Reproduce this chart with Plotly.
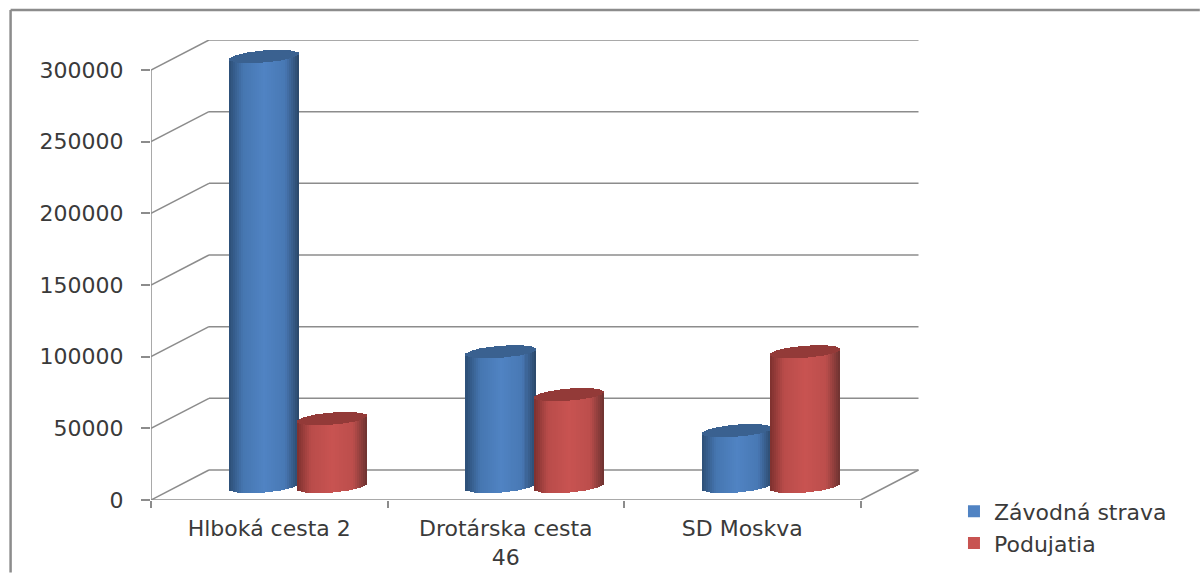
import math
import plotly.graph_objects as go

categories = ["Hlboká cesta 2", "Drotárska cesta<br>46", "SD Moskva"]
zavodna_strava = [300000, 94000, 39000]
podujatia = [47400, 64100, 94000]
y_ticks = [0, 50000, 100000, 150000, 200000, 250000, 300000]

W, H = 1200, 573
X0, X1, XB = 150.5, 860.5, 919.0   # front axis start/end, back wall end (px)
Y0, YTOP, YB = 500.5, 70.0, 40.0   # value 0, value 300000, back wall top (px)
CAT_PX = (X1 - X0) / 3
PX_X = 1 / CAT_PX
PX_Y = 300000 / (Y0 - YTOP)
DX, DY = 58 * PX_X, 30 * PX_Y
GREY = "#8c8c8c"
FONT = dict(family="DejaVu Sans", size=22, color="#3a3a3a")

def mix(stops, u):
    for (a, ca), (b, cb) in zip(stops, stops[1:]):
        if u <= b:
            f = (u - a) / (b - a)
            return "rgb(%d,%d,%d)" % tuple(round(p + (q - p) * f) for p, q in zip(ca, cb))
    return "rgb(%d,%d,%d)" % stops[-1][1]

BLUE = [(-1, (44, 78, 118)), (-.6, (70, 118, 176)), (0, (80, 131, 195)), (.6, (72, 120, 180)), (1, (42, 70, 104))]
RED = [(-1, (125, 48, 46)), (-.6, (185, 76, 74)), (0, (200, 83, 81)), (.6, (188, 78, 76)), (1, (108, 50, 48))]

STRIPS = 35
HALF = 35
TILT, ELL = 2.75, 6.0
BASE = 13.5 * PX_Y

def cylinders(name, values, shift_px, stops, top_rgb):
    xs, bases, heights, colours = [], [], [], []
    order = sorted(range(STRIPS), key=lambda i: abs(i - STRIPS // 2))
    for cat, v in enumerate(values):
        for i in order:
            u = (i + .5) / STRIPS * 2 - 1
            lo = (TILT * u - ELL * math.sqrt(max(0, 1 - u * u))) * PX_Y
            hi = (TILT * u + ELL * math.sqrt(max(0, 1 - u * u))) * PX_Y
            x = cat + (29 + shift_px + u * HALF) * PX_X
            xs += [x, x]
            bases += [BASE + lo, BASE + v + lo]
            heights += [v, hi - lo]
            colours += [mix(stops, u), top_rgb]
    return go.Bar(x=xs, y=heights, base=bases, width=2 * HALF / STRIPS * PX_X, name=name,
                  marker=dict(color=colours, line=dict(width=0)), hoverinfo="skip")

fig = go.Figure()
fig.add_trace(cylinders("Závodná strava", zavodna_strava, -34, BLUE, "rgb(58,97,144)"))
fig.add_trace(cylinders("Podujatia", podujatia, 34, RED, "rgb(147,58,56)"))

shapes = []
def seg(x0, y0, x1, y1):
    shapes.append(dict(type="line", xref="x", yref="y", x0=x0, y0=y0, x1=x1, y1=y1,
                       layer="below", line=dict(color=GREY, width=1.5)))
for t in y_ticks:
    seg(-.5, t, -.5 + DX, t + DY)
    seg(-.5 + DX, t + DY, 2.5 + DX, t + DY)
seg(-.5, 0, -.5, y_ticks[-1])
seg(-.5, 0, 2.5, 0)
seg(2.5, 0, 2.5 + DX, DY)

plot_h = Y0 - YB
plot_w = XB - X0
def px(x): return (x - X0) / plot_w
def py(y): return (Y0 - y) / plot_h
shapes.append(dict(type="line", xref="paper", yref="paper", x0=px(10), y0=py(573), x1=px(10), y1=py(10),
                   layer="below", line=dict(color=GREY, width=2.5)))
shapes.append(dict(type="line", xref="paper", yref="paper", x0=px(10), y0=py(10), x1=px(1200), y1=py(10),
                   layer="below", line=dict(color=GREY, width=2.5)))

fig.update_layout(
    width=W, height=H, autosize=False, barmode="overlay", bargap=0,
    paper_bgcolor="white", plot_bgcolor="white", font=FONT,
    margin=dict(l=X0, r=W - XB, t=YB, b=H - Y0, pad=0, autoexpand=False),
    shapes=shapes,
    legend=dict(x=px(954), y=py(491), xanchor="left", yanchor="top", font=FONT,
                bgcolor="rgba(0,0,0,0)", tracegroupgap=22, traceorder="normal"),
    xaxis=dict(range=[-.5, -.5 + plot_w * PX_X], tickmode="array", tickvals=[0, 1, 2], ticktext=categories,
               ticks="", showgrid=False, zeroline=False, showline=False, ticklabelstandoff=13,
               tickfont=FONT,
               minor=dict(tickmode="array", tickvals=[-.5, .5, 1.5, 2.5], ticks="outside", ticklen=7,
                          tickwidth=1.5, tickcolor=GREY, showgrid=False)),
    yaxis=dict(range=[0, (Y0 - YB) * PX_Y], tickmode="array", tickvals=y_ticks, ticks="outside", ticklen=9,
               tickwidth=1.5, tickcolor=GREY, showgrid=False, zeroline=False, showline=False,
               ticklabelstandoff=13, tickfont=FONT, tickformat="d"),
)
fig.data[0].legendgroup = "a"
fig.data[1].legendgroup = "b"
fig.write_html("out.html", post_script="document.body.style.margin='0';",
               config=dict(displayModeBar=False))
